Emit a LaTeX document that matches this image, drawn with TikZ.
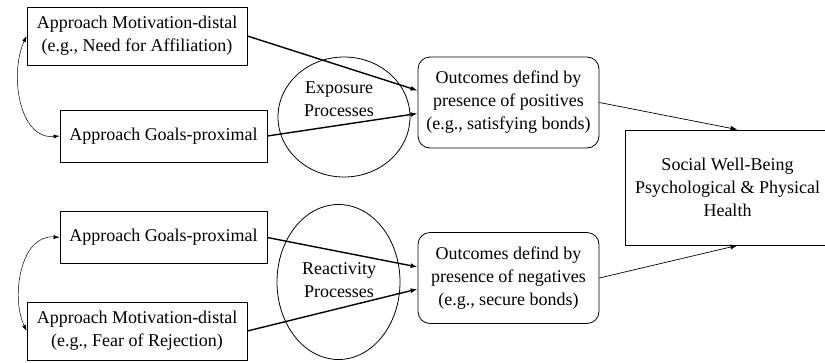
\documentclass[tikz,border=0pt]{standalone}
\usepackage{fontspec}
\setmainfont{Liberation Serif}
\usetikzlibrary{shapes.geometric, arrows.meta}
\tikzset{every node/.append style={font=\fontsize{18}{23}\selectfont}}

\begin{document}
\begin{tikzpicture}[x=1pt, y=1pt,
    box/.style={draw, line width=0.8pt, align=center, inner sep=0pt},
    roundbox/.style={box, rounded corners=12pt},
    proc/.style={draw, ellipse, line width=0.8pt, inner sep=0pt},
    link/.style={-{Latex[length=7pt, width=5pt]}, line width=1.4pt},
    thinlink/.style={-{Latex[length=7pt, width=5pt]}, line width=0.7pt},
    pairarrow/.style={{Latex[length=6pt, width=4pt]}-{Latex[length=6pt, width=4pt]}, line width=0.5pt}]
    \useasboundingbox (0,0) rectangle (825,-362);
    % upper half: approach toward positives
    \node[box, minimum width=220pt, minimum height=58pt] (motivA) at (137,-36) {Approach Motivation-distal\\(e.g., Need for Affiliation)};
    \node[box, minimum width=207pt, minimum height=52pt] (goalA) at (163.5,-136) {Approach Goals-proximal};
    \node[proc, minimum width=132pt, minimum height=120pt] (expo) at (344,-117) {};
    \node[align=center] (expolbl) at (339,-99) {Exposure\\Processes};
    \node[roundbox, minimum width=181pt, minimum height=91pt] (outPos) at (508.5,-102.5) {Outcomes defind by\\presence of positives\\(e.g., satisfying bonds)};
    % lower half: avoidance of negatives
    \node[box, minimum width=207pt, minimum height=52pt] (goalB) at (163.5,-237.5) {Approach Goals-proximal};
    \node[box, minimum width=220pt, minimum height=58pt] (motivB) at (137,-331) {Approach Motivation-distal\\(e.g., Fear of Rejection)};
    \node[proc, minimum width=123pt, minimum height=155pt] (react) at (338.5,-282) {};
    \node[align=center] (reactlbl) at (339,-280) {Reactivity\\Processes};
    \node[roundbox, minimum width=181pt, minimum height=91pt] (outNeg) at (508.5,-278) {Outcomes defind by\\presence of negatives\\(e.g., secure bonds)};
    % final outcome
    \node[box, minimum width=205pt, minimum height=115pt] (social) at (727.5,-187.5) {Social Well-Being\\Psychological \& Physical\\Health};

    \draw[link] (motivA.east) -- ([yshift=12pt]outPos.west);
    \draw[link] (goalA.east) -- ([yshift=-11pt]outPos.west);
    \draw[link] (goalB.east) -- ([yshift=11pt]outNeg.west);
    \draw[link] (motivB.east) -- ([yshift=-11pt]outNeg.west);
    \draw[thinlink] (outPos.east) -- ([xshift=10pt]social.north);
    \draw[thinlink] (outNeg.east) -- ([xshift=10pt]social.south);
    % correlations
    \draw[pairarrow] (motivA.west) to[out=245, in=185] (goalA.west);
    \draw[pairarrow] (goalB.west) to[out=175, in=115] (motivB.west);
\end{tikzpicture}
\end{document}
